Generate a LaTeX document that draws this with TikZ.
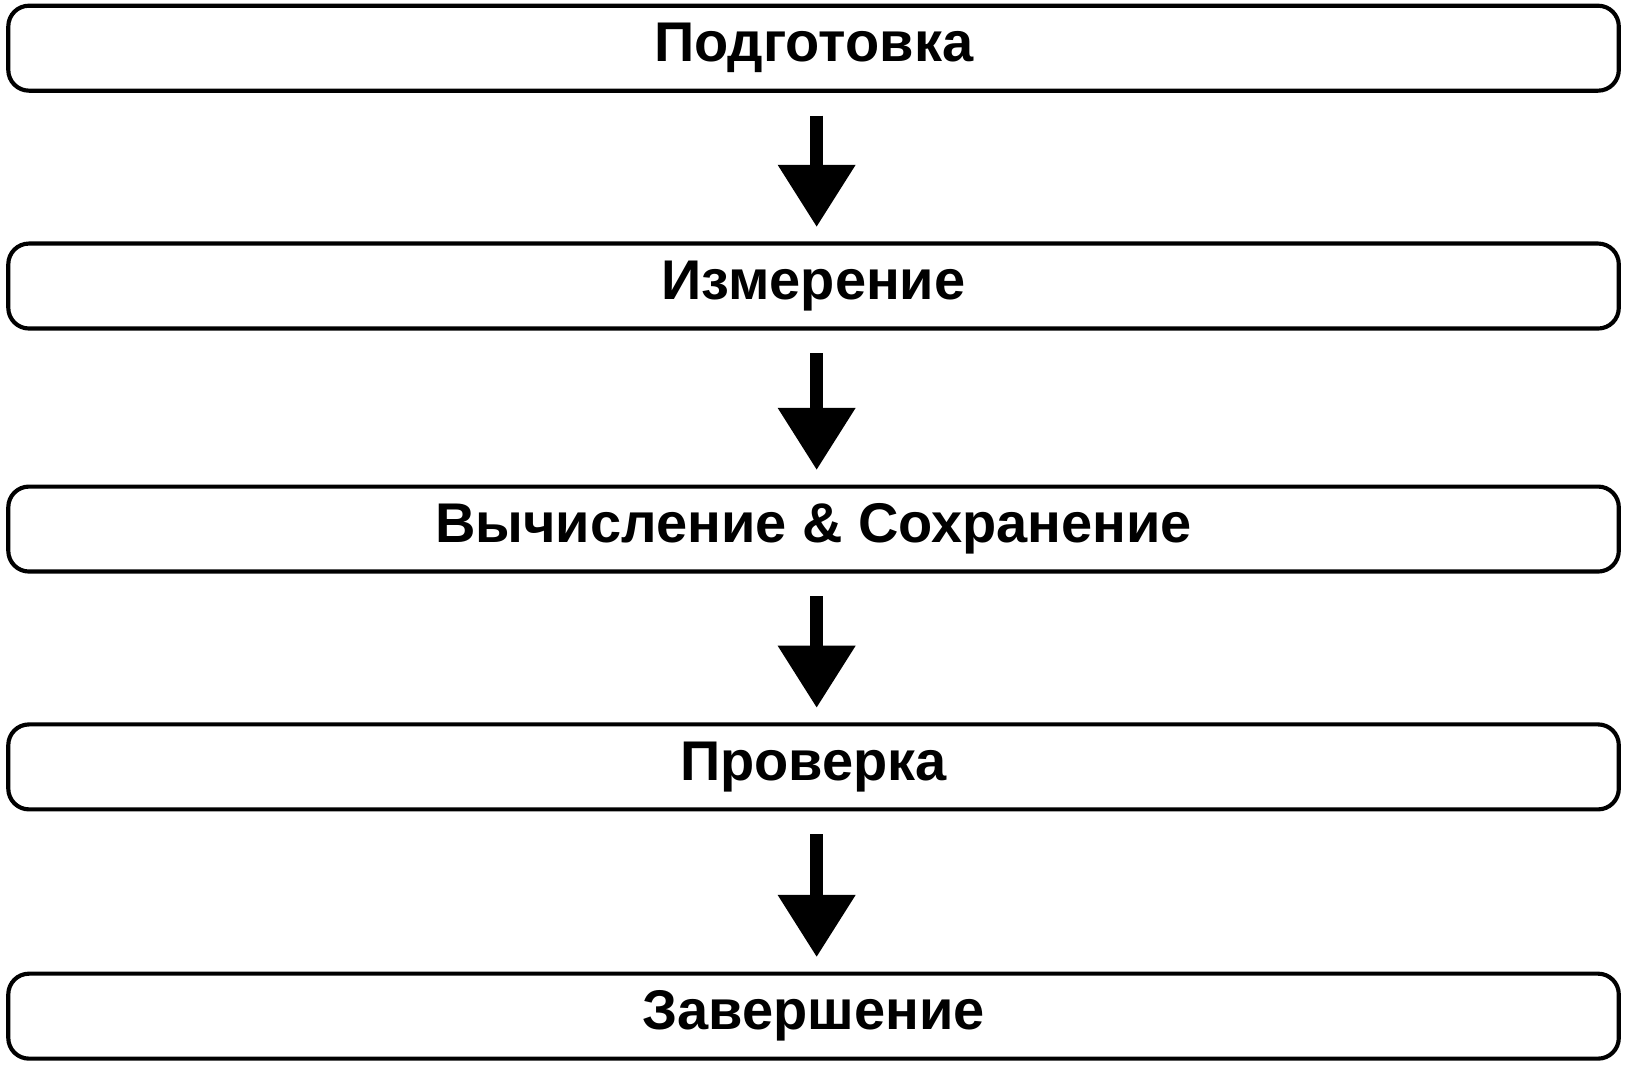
\documentclass[tikz,border=0pt]{standalone}
\usepackage{fontspec}
\setmainfont{Liberation Sans}
\usetikzlibrary{arrows.meta}
\newcommand{\dn}[1]{\raisebox{-5pt}{#1}}
\begin{document}
\begin{tikzpicture}[x=1pt,y=-1pt,
 stepbox/.style={draw=black,line width=4pt,rounded corners=20pt,minimum width=1554pt,minimum height=82pt,inner sep=0pt,font=\fontsize{54}{60}\selectfont\bfseries},
 flow/.style={line width=12pt,-{Triangle[length=60pt,width=72pt]},shorten <=22pt,shorten >=14pt}]
\useasboundingbox (0,0) rectangle (1568,1033);
\node[stepbox] (a) at (785,46.5) {\dn{Подготовка}};
\node[stepbox] (b) at (785,276) {\dn{Измерение}};
\node[stepbox] (c) at (785,510.5) {\dn{Вычисление \& Сохранение}};
\node[stepbox] (d) at (785,740) {\dn{Проверка}};
\node[stepbox] (e) at (785,980.5) {\dn{Завершение}};
\foreach \u/\v in {a/b,b/c,c/d,d/e}
 \draw[flow] ([xshift=3pt]\u.south) -- ([xshift=3pt]\v.north);
\end{tikzpicture}
\end{document}
